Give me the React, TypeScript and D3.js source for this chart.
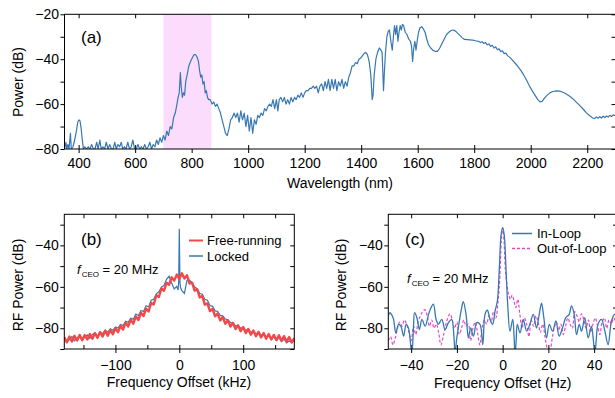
import { useEffect, useRef } from 'react';
import * as d3 from 'd3';

// (a) supercontinuum spectrum: [wavelength nm, power dB]
const spectrum: [number, number][] = [
  [350, -80], [355, -77], [358, -80], [362, -78], [366, -80], [371, -73], [374, -80], [380, -79], [386, -76],
  [392, -72], [397, -68], [401, -67], [405, -67.5], [409, -71], [413, -76], [417, -80], [422, -79], [428, -80],
  [434, -79], [440, -80], [446, -78], [452, -80], [458, -80], [464, -77], [469, -80], [475, -76], [480, -80],
  [486, -79], [492, -80], [498, -77], [504, -80], [510, -78], [516, -80], [522, -80], [528, -77], [533, -80],
  [539, -78], [545, -79], [551, -77], [556, -80], [562, -79], [568, -80], [574, -77], [580, -80], [586, -79],
  [592, -76], [598, -80], [604, -80], [610, -78], [616, -80], [622, -79], [628, -80], [634, -78], [640, -80],
  [646, -79], [652, -77], [658, -80], [664, -78], [670, -79], [676, -76], [682, -78], [688, -75], [694, -77],
  [700, -74], [706, -76], [712, -72], [718, -74], [724, -70], [730, -71], [736, -66], [742, -64], [748, -60],
  [752, -57], [756, -55], [760, -46], [763, -52], [767, -57], [771, -55], [775, -56], [779, -50], [784, -47],
  [790, -43], [796, -41], [802, -39.5], [808, -38], [814, -38], [819, -39], [824, -41], [828, -45], [832, -48],
  [836, -47], [840, -51], [844, -50], [848, -55], [852, -54], [856, -57], [860, -58], [866, -58], [872, -60],
  [878, -59], [884, -61], [890, -60], [896, -62], [902, -64], [908, -67], [914, -70], [920, -73], [926, -74],
  [932, -71], [938, -67], [944, -66], [950, -64], [956, -66], [962, -64], [968, -68], [974, -63], [980, -67],
  [986, -64], [992, -70], [998, -65], [1004, -72], [1010, -66], [1016, -73], [1022, -67], [1028, -69], [1034, -65],
  [1040, -66], [1046, -64], [1052, -65], [1058, -62], [1064, -63], [1070, -61], [1076, -60], [1082, -61], [1088, -58],
  [1094, -62], [1100, -58], [1105, -63], [1110, -58], [1116, -57], [1122, -59], [1128, -57], [1134, -60], [1140, -58],
  [1146, -60], [1152, -57], [1158, -59], [1164, -57], [1170, -58], [1176, -56], [1182, -57], [1188, -55], [1194, -57],
  [1200, -55], [1206, -54], [1212, -54], [1218, -53], [1224, -53], [1230, -52], [1236, -53], [1242, -52], [1248, -55],
  [1254, -52], [1260, -51], [1266, -54], [1272, -50], [1278, -53], [1284, -49], [1290, -54], [1296, -49], [1302, -53],
  [1308, -49], [1314, -54], [1320, -50], [1326, -52], [1332, -49], [1338, -53], [1344, -50], [1350, -52], [1356, -48],
  [1362, -46], [1368, -43], [1374, -43], [1380, -41.5], [1386, -42], [1392, -40], [1398, -39.5], [1404, -38.5],
  [1410, -37.5], [1416, -37], [1422, -38], [1428, -41], [1434, -47], [1439, -58], [1442, -56], [1446, -47],
  [1452, -40], [1458, -37], [1464, -35], [1470, -36], [1474, -37], [1479, -54], [1482, -46], [1486, -37],
  [1491, -30], [1496, -27.5], [1500, -27], [1505, -32], [1510, -36], [1514, -30], [1518, -25], [1522, -29],
  [1526, -25], [1530, -32], [1534, -28], [1538, -25], [1542, -27], [1546, -24.5], [1550, -25], [1556, -28],
  [1562, -29], [1568, -31], [1574, -32], [1578, -34], [1582, -41], [1586, -35], [1590, -32], [1594, -36],
  [1598, -32], [1603, -28], [1608, -26], [1614, -25.5], [1620, -26.5], [1626, -28], [1632, -31], [1638, -33.5],
  [1646, -35], [1654, -36], [1662, -36.5], [1670, -36.5], [1678, -35], [1686, -33], [1694, -31], [1702, -29],
  [1710, -28], [1718, -27.2], [1726, -27], [1734, -27.5], [1742, -28.5], [1750, -29.5], [1758, -30.5], [1766, -31.2],
  [1775, -31.3], [1785, -31.4], [1795, -31.5], [1805, -31.8], [1815, -32], [1822, -32.6], [1828, -32.2], [1834, -33],
  [1840, -32.6], [1846, -33.6], [1852, -33.2], [1858, -34.3], [1864, -33.8], [1870, -35], [1876, -34.5], [1882, -35.8],
  [1888, -35.4], [1894, -36.6], [1900, -36.3], [1906, -37.5], [1912, -37.3], [1918, -38.4], [1926, -39.2], [1935, -40.4],
  [1945, -41.8], [1955, -43.3], [1965, -45], [1975, -47], [1985, -49.3], [1995, -51.8], [2005, -54], [2015, -56],
  [2025, -58], [2033, -59], [2040, -58.8], [2048, -57.5], [2058, -56], [2068, -55], [2078, -54.4], [2090, -54.1],
  [2102, -54.2], [2114, -54.7], [2126, -55.5], [2138, -56.5], [2150, -57.7], [2162, -59.2], [2174, -60.7], [2186, -62.3],
  [2198, -64], [2210, -65.3], [2220, -66.2], [2226, -66.5], [2232, -65.7], [2238, -66.3], [2244, -65.6], [2250, -66.2],
  [2256, -65.4], [2262, -66], [2268, -65.3], [2274, -65.8], [2280, -65], [2286, -65.5], [2292, -64.8], [2300, -65.2],
];
const pumpBand = [700, 870];

// (b) beat note, [offset kHz, RF power dB]
const freeRunning: [number, number][] = [
  [-180, -84.3], [-176, -86.8], [-172, -84.0], [-168, -86.4], [-164, -83.6], [-160, -85.9], [-156, -83.2], [-152, -85.8],
  [-148, -83.3], [-144, -85.4], [-140, -82.8], [-136, -85.0], [-132, -82.3], [-128, -84.6], [-124, -81.8], [-120, -84.0],
  [-116, -81.2], [-112, -83.6], [-108, -80.8], [-104, -82.9], [-100, -80.0], [-96, -81.9], [-92, -78.8], [-88, -80.6],
  [-84, -77.3], [-80, -79.1], [-76, -75.9], [-72, -77.8], [-68, -74.3], [-64, -76.0], [-60, -72.5], [-56, -74.1],
  [-52, -70.5], [-48, -71.9], [-44, -67.8], [-40, -68.5], [-36, -64.1], [-32, -64.9], [-28, -60.8], [-24, -61.9],
  [-20, -58.0], [-16, -59.0], [-12, -55.4], [-8, -57.0], [-4, -54.1], [0, -56.2], [4, -53.5], [8, -56.0],
  [12, -54.4], [16, -58.4], [20, -58.0], [24, -61.8], [28, -61.2], [32, -65.1], [36, -64.4], [40, -68.6],
  [44, -68.0], [48, -71.7], [52, -70.6], [56, -74.2], [60, -72.9], [64, -76.2], [68, -74.6], [72, -77.8],
  [76, -76.1], [80, -79.2], [84, -77.4], [88, -80.4], [92, -78.5], [96, -81.4], [100, -79.4], [104, -82.3],
  [108, -80.3], [112, -83.1], [116, -81.1], [120, -83.8], [124, -81.7], [128, -84.4], [132, -82.3], [136, -85.0],
  [140, -82.8], [144, -85.4], [148, -83.2], [152, -85.7], [156, -83.4], [160, -86.0], [164, -83.8], [168, -86.4],
  [172, -84.2], [176, -86.9], [180, -84.8],
];
const locked: [number, number][] = [
  [-180, -84.2], [-176, -86.6], [-172, -85.5], [-168, -84.0], [-164, -86.0], [-160, -84.8], [-156, -83.5], [-152, -85.6],
  [-148, -84.4], [-144, -83.2], [-140, -84.9], [-136, -83.0], [-132, -82.3], [-128, -83.9], [-124, -81.8], [-120, -82.6],
  [-116, -80.9], [-112, -81.9], [-108, -80.2], [-104, -81.0], [-100, -79.4], [-96, -79.9], [-92, -78.2], [-88, -78.7],
  [-84, -76.6], [-80, -77.1], [-76, -75.2], [-72, -75.6], [-68, -73.1], [-64, -73.8], [-60, -71.4], [-56, -71.9],
  [-52, -69.1], [-48, -69.6], [-44, -66.5], [-40, -66.0], [-36, -63.4], [-32, -62.4], [-28, -60.2], [-24, -59.3],
  [-20, -56.4], [-16, -54.9], [-12, -58.2], [-8, -61.0], [-4, -59.8], [-2, -61.5], [-1, -58], [0, -32],
  [1, -58], [2, -60.5], [4, -61.8], [8, -63.2], [12, -57.0], [16, -56.8], [20, -58.0], [24, -60.1],
  [28, -60.9], [32, -63.2], [36, -63.6], [40, -66.0], [44, -66.5], [48, -69.0], [52, -69.4], [56, -71.6],
  [60, -71.9], [64, -73.8], [68, -74.0], [72, -75.5], [76, -75.9], [80, -77.3], [84, -77.4], [88, -78.9],
  [92, -78.7], [96, -79.9], [100, -79.6], [104, -81.0], [108, -80.6], [112, -82.0], [116, -81.3], [120, -82.8],
  [124, -82.0], [128, -83.6], [132, -82.6], [136, -84.3], [140, -83.5], [144, -85.2], [148, -84.1], [152, -85.8],
  [156, -84.5], [160, -86.4], [164, -85.2], [168, -87.0], [172, -86.1], [176, -86.9], [180, -85.8],
];

// (c) locked beat note, [offset Hz, RF power dB]
const inLoop: [number, number][] = [
  [-50, -74], [-49.3, -72.5], [-48.5, -73.5], [-47.7, -75.7], [-46.7, -82.2], [-45.5, -78.1], [-44.5, -79],
  [-43.3, -83.8], [-42.2, -78.1], [-41.2, -79.8], [-40.4, -86], [-39.7, -93], [-39, -80], [-38.5, -72.5],
  [-37.5, -74.9], [-36.4, -80.6], [-35.3, -75.7], [-33.9, -79], [-32.4, -73.3], [-31.3, -70], [-30.3, -68.4],
  [-29.1, -75.7], [-28.1, -78.1], [-26.6, -75.7], [-25.2, -80.6], [-23.7, -77.3], [-22.3, -75.7], [-21.3, -84],
  [-20.8, -93], [-20.2, -86], [-19.3, -79], [-17.9, -70], [-17.2, -67.1], [-16, -73.3], [-15, -84.6],
  [-14, -79.8], [-12.8, -83.8], [-11.3, -77.3], [-9.9, -78.1], [-8.7, -87.9], [-7.7, -73.3], [-6.7, -71.3],
  [-5.5, -75.7], [-4.4, -78.1], [-3.3, -71.6], [-2.3, -66.8], [-1.5, -52.2], [-0.7, -35.1], [0, -31.4],
  [0.7, -35.1], [1.5, -52.2], [2.2, -68.4], [3.2, -81.4], [4.4, -75.7], [5, -84], [5.4, -93], [5.9, -86],
  [6.4, -78.1], [7.6, -82.2], [9, -75.7], [10.5, -81.4], [11.9, -78.1], [13.4, -73.3], [14.8, -79.8],
  [16, -73.3], [17, -67.9], [18, -74.9], [19.2, -84.6], [20.4, -78.1], [21.8, -81.4], [23.3, -76.5],
  [24.7, -83.8], [26.2, -79.8], [27.6, -74.9], [29.1, -73.3], [30.1, -69.2], [31.3, -73.3], [32.3, -83],
  [33.5, -78.1], [34.5, -81.4], [35.9, -74.9], [37.4, -84.6], [38.8, -79], [39.7, -86], [40.3, -93],
  [40.9, -86], [41.7, -78.1], [43.2, -75.7], [44.7, -81.4], [46.1, -87.9], [47.6, -76.5], [49, -73.3], [50, -74],
];
const outOfLoop: [number, number][] = [
  [-50, -86], [-49, -84], [-48, -88], [-47, -85], [-46, -80], [-45, -77], [-44, -79], [-43, -76], [-42, -78],
  [-41, -82], [-40, -86], [-39, -79], [-38, -83], [-37, -77], [-36, -74], [-35, -72], [-34, -71], [-33, -74],
  [-32, -79], [-31, -76], [-30, -80], [-29, -78], [-28, -82], [-27, -88], [-26, -84], [-25, -79], [-24, -75],
  [-23, -73], [-22, -76], [-21, -80], [-20, -77], [-19, -83], [-18, -80], [-17, -76], [-16, -79], [-15, -78],
  [-14, -86], [-13, -80], [-12, -77], [-11, -82], [-10, -88], [-9, -80], [-8, -76], [-7, -78], [-6, -74],
  [-5, -77], [-4, -72], [-3, -75], [-2, -67], [-1.2, -55], [-0.6, -38], [0, -31.5], [0.6, -38], [1.2, -52],
  [2, -60], [2.7, -64], [3.4, -66], [4.2, -64], [5, -67], [5.8, -70], [6.6, -66], [7.5, -73], [8.5, -80],
  [9.5, -75], [10.5, -78], [11.5, -84], [12.5, -76], [13.5, -79], [14.5, -74], [15.5, -77], [16.5, -82],
  [17.5, -78], [18.5, -84], [19.5, -90], [20.5, -93], [21.5, -86], [22.5, -80], [23.5, -77], [24.5, -81],
  [25.5, -78], [26.5, -83], [27.5, -79], [28.5, -75], [29.5, -78], [30.5, -80], [31.5, -72], [32.5, -74],
  [33.5, -77], [34.5, -73], [35.5, -76], [36.5, -80], [37.5, -76], [38.5, -82], [39.5, -78], [40.5, -75],
  [41.5, -79], [42.5, -83], [43.5, -77], [44.5, -75], [45.5, -80], [46.5, -76], [47.5, -78], [48.5, -75],
  [49.5, -77], [50, -79],
];

const wlTicks = [400, 600, 800, 1000, 1200, 1400, 1600, 1800, 2000, 2200];
const khzTicks = [-100, 0, 100];
const khzMinor = [-150, -100, -50, 0, 50, 100, 150];
const hzTicks = [-40, -20, 0, 20, 40];
const powerTicksA = [-80, -70, -60, -50, -40, -30, -20];
const powerTicksBC = [-90, -80, -70, -60, -50, -40, -30];

const FONT = '"Liberation Sans", Arial, Helvetica, sans-serif';
const BLUE = '#3878b2';
const RED = '#f44848';
const PINK = '#e24cc4';

const fmt = (d) => d3.format('')(d);

function frame(svg, id, x, y, opt) {
  const [x0, x1] = x.range();
  const [yb, yt] = y.range();
  const g = svg.append('g');

  g.append('clipPath').attr('id', id)
    .append('rect').attr('x', x0).attr('y', yt).attr('width', x1 - x0).attr('height', yb - yt);

  const style = (sel) => {
    sel.select('.domain').remove();
    sel.selectAll('line').attr('stroke', '#000');
    sel.selectAll('text').attr('font-size', 14).attr('font-family', FONT).attr('fill', '#000');
  };

  // bottom labelled ticks (outward)
  g.append('g').attr('transform', `translate(0,${yb})`)
    .call(d3.axisBottom(x).tickValues(opt.xTicks).tickSizeInner(4).tickSizeOuter(0).tickPadding(opt.xPad).tickFormat(fmt))
    .call(style);
  // inner ticks on bottom and top
  g.append('g').attr('transform', `translate(0,${yb})`)
    .call(d3.axisBottom(x).tickValues(opt.xMinor).tickSizeInner(-4).tickSizeOuter(0).tickFormat(() => ''))
    .call(style);
  g.append('g').attr('transform', `translate(0,${yt})`)
    .call(d3.axisTop(x).tickValues(opt.xMinor).tickSizeInner(-4).tickSizeOuter(0).tickFormat(() => ''))
    .call(style);
  // left (outward) and right (inward)
  g.append('g').attr('transform', `translate(${x0},0)`)
    .call(d3.axisLeft(y).tickValues(opt.yTicks).tickSizeInner(4).tickSizeOuter(0).tickPadding(1.5)
      .tickFormat((d) => (opt.yLabels.includes(d) ? fmt(d) : '')))
    .call(style);
  g.append('g').attr('transform', `translate(${x1},0)`)
    .call(d3.axisRight(y).tickValues(opt.yTicks).tickSizeInner(-4).tickSizeOuter(0).tickFormat(() => ''))
    .call(style);

  const plot = g.append('g').attr('clip-path', `url(#${id})`);
  return { g, plot, x0, x1, yb, yt };
}

function label(g, x, y, txt, size = 14, extra = {}) {
  const t = g.append('text').attr('x', x).attr('y', y).attr('font-family', FONT).attr('font-size', size).text(txt);
  Object.entries(extra).forEach(([k, v]) => t.attr(k, v));
  return t;
}

function fceo(g, x, y) {
  const t = g.append('text').attr('x', x).attr('y', y).attr('font-family', FONT).attr('font-size', 13);
  t.append('tspan').attr('font-style', 'italic').text('f');
  t.append('tspan').attr('font-size', 8).attr('dx', 1).attr('dy', 3).text('CEO');
  t.append('tspan').attr('dy', -3).text(' = 20 MHz');
}

const App = () => {
  const svgRef = useRef(null);

  useEffect(() => {
    const svg = d3.select(svgRef.current);
    svg.selectAll('*').remove();

    // ---- (a) spectrum
    const xa = d3.scaleLinear().domain([350, 2300]).range([64.5, 615.5]);
    const ya = d3.scaleLinear().domain([-80, -20]).range([149, 14.3]);
    const a = frame(svg, 'clipA', xa, ya, {
      xTicks: wlTicks, xMinor: wlTicks, xPad: 5, yTicks: powerTicksA, yLabels: [-80, -60, -40, -20],
    });
    a.plot.append('rect')
      .attr('x', xa(pumpBand[0])).attr('width', xa(pumpBand[1]) - xa(pumpBand[0]))
      .attr('y', a.yt).attr('height', a.yb - a.yt).attr('fill', '#fcdcfc');
    a.plot.append('path').datum(spectrum)
      .attr('d', d3.line().x((d) => xa(d[0])).y((d) => ya(d[1])))
      .attr('fill', 'none').attr('stroke', BLUE).attr('stroke-width', 1.2).attr('stroke-linejoin', 'round');
    a.g.append('rect').attr('x', a.x0).attr('y', a.yt).attr('width', a.x1 - a.x0).attr('height', a.yb - a.yt)
      .attr('fill', 'none').attr('stroke', '#000');
    label(a.g, 81, 43, '(a)', 17);
    label(a.g, 340, 188, 'Wavelength (nm)', 14, { 'text-anchor': 'middle' });
    label(a.g, 0, 0, 'Power (dB)', 14, { 'text-anchor': 'middle', transform: 'translate(23,82) rotate(-90)' });

    // ---- (b) free-running vs locked
    const xb = d3.scaleLinear().domain([-180, 180]).range([64.3, 294.3]);
    const yb = d3.scaleLinear().domain([-90, -25]).range([349, 214.3]);
    const b = frame(svg, 'clipB', xb, yb, {
      xTicks: khzTicks, xMinor: khzMinor, xPad: 7, yTicks: powerTicksBC, yLabels: [-80, -60, -40],
    });
    const lineB = d3.line().x((d) => xb(d[0])).y((d) => yb(d[1]));
    b.plot.append('path').datum(locked).attr('d', lineB)
      .attr('fill', 'none').attr('stroke', BLUE).attr('stroke-width', 1.2);
    b.plot.append('path').datum(freeRunning).attr('d', lineB)
      .attr('fill', 'none').attr('stroke', RED).attr('stroke-width', 2.4).attr('stroke-linejoin', 'round');
    b.g.append('rect').attr('x', b.x0).attr('y', b.yt).attr('width', b.x1 - b.x0).attr('height', b.yb - b.yt)
      .attr('fill', 'none').attr('stroke', '#000');
    label(b.g, 81, 245, '(b)', 17);
    fceo(b.g, 77, 274);
    b.g.append('line').attr('x1', 189).attr('x2', 203).attr('y1', 240.5).attr('y2', 240.5).attr('stroke', RED).attr('stroke-width', 2);
    label(b.g, 207, 245, 'Free-running', 13);
    b.g.append('line').attr('x1', 189).attr('x2', 203).attr('y1', 256).attr('y2', 256).attr('stroke', BLUE).attr('stroke-width', 1.5);
    label(b.g, 207, 261, 'Locked', 13);
    label(b.g, 179, 387, 'Frequency Offset (kHz)', 14, { 'text-anchor': 'middle' });
    label(b.g, 0, 0, 'RF Power (dB)', 14, { 'text-anchor': 'middle', transform: 'translate(23,285) rotate(-90)' });

    // ---- (c) in-loop vs out-of-loop
    const xc = d3.scaleLinear().domain([-50, 50]).range([388.3, 617]);
    const yc = d3.scaleLinear().domain([-90, -25]).range([349, 214.3]);
    const c = frame(svg, 'clipC', xc, yc, {
      xTicks: hzTicks, xMinor: hzTicks, xPad: 7, yTicks: powerTicksBC, yLabels: [-80, -60, -40],
    });
    const lineC = d3.line().curve(d3.curveCatmullRom.alpha(0.5)).x((d) => xc(d[0])).y((d) => yc(d[1]));
    c.plot.append('path').datum(outOfLoop).attr('d', lineC)
      .attr('fill', 'none').attr('stroke', PINK).attr('stroke-width', 1.2).attr('stroke-dasharray', '3,2');
    c.plot.append('path').datum(inLoop).attr('d', lineC)
      .attr('fill', 'none').attr('stroke', BLUE).attr('stroke-width', 1.3);
    c.g.append('rect').attr('x', c.x0).attr('y', c.yt).attr('width', c.x1 - c.x0).attr('height', c.yb - c.yt)
      .attr('fill', 'none').attr('stroke', '#000');
    label(c.g, 405, 245, '(c)', 17);
    fceo(c.g, 407, 283);
    c.g.append('line').attr('x1', 512).attr('x2', 532).attr('y1', 233.5).attr('y2', 233.5).attr('stroke', BLUE).attr('stroke-width', 1.5);
    label(c.g, 537, 238, 'In-Loop', 13);
    c.g.append('line').attr('x1', 512).attr('x2', 532).attr('y1', 248.5).attr('y2', 248.5).attr('stroke', PINK)
      .attr('stroke-width', 1.3).attr('stroke-dasharray', '3,2');
    label(c.g, 537, 253, 'Out-of-Loop', 13);
    label(c.g, 502.7, 388, 'Frequency Offset (Hz)', 14, { 'text-anchor': 'middle' });
    label(c.g, 0, 0, 'RF Power (dB)', 14, { 'text-anchor': 'middle', transform: 'translate(346,285) rotate(-90)' });
  }, []);

  return (
    <svg
      ref={svgRef}
      width={615}
      height={398}
      style={{ position: 'absolute', left: 0, top: 0, background: '#fff' }}
    />
  );
};

export default App;
